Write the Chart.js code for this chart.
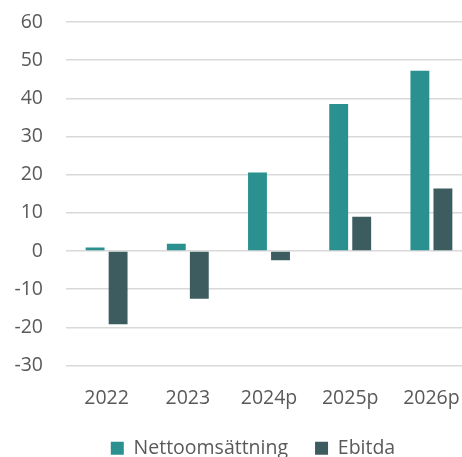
<!DOCTYPE html>
<html>
<head>
<meta charset="utf-8">
<script src="https://cdn.jsdelivr.net/npm/chart.js@4/dist/chart.umd.min.js"></script>
<style>
html,body{margin:0;padding:0;background:#fff;overflow:hidden;}
/* the original is cropped: the plot runs a bit past the right edge */
#wrap{width:462px;height:457px;overflow:hidden;}
</style>
</head>
<body>
<div id="wrap"><canvas id="chart" width="472" height="457"></canvas></div>
<script>
const years = ["2022", "2023", "2024p", "2025p", "2026p"];
const nettoomsattning = [0.9, 1.9, 20.6, 38.5, 47.2];
const ebitda = [-19.2, -12.5, -2.4, 9.0, 16.4];
const yTicks = [-30, -20, -10, 0, 10, 20, 30, 40, 50, 60];

const grey = "#595959";
const font = { family: "'Open Sans', 'Noto Sans', sans-serif", size: 19.5 };

// legend sits a little right of centre in the original
const legendShift = {
  id: "legendShift",
  afterLayout(chart) {
    chart.legend.left += 17;
    chart.legend.right += 17;
  }
};

new Chart(document.getElementById("chart"), {
  type: "bar",
  data: {
    labels: years,
    datasets: [
      { label: "Nettoomsättning", data: nettoomsattning, backgroundColor: "#2A9090" },
      { label: "Ebitda", data: ebitda, backgroundColor: "#3D5C60" }
    ]
  },
  options: {
    responsive: false,
    animation: false,
    layout: { padding: { top: 22, right: 0, left: 0, bottom: -11 } },
    datasets: { bar: { categoryPercentage: 0.567, barPercentage: 0.82 } },
    plugins: {
      tooltip: { enabled: false },
      legend: {
        position: "bottom",
        labels: {
          color: grey, font: font,
          boxWidth: 13, boxHeight: 13, padding: 27
        }
      }
    },
    scales: {
      x: {
        grid: { display: false },
        border: { display: false },
        afterFit: s => { s.height = 46; s.paddingLeft = 0; s.paddingRight = 0; },
        ticks: { color: grey, font: font, padding: 13 }
      },
      y: {
        min: -30, max: 60,
        afterBuildTicks: s => { s.ticks = yTicks.map(v => ({ value: v })); },
        afterFit: s => { s.width = 66; s.paddingTop = 0; s.paddingBottom = 0; },
        grid: { color: "#d9d9d9", lineWidth: 1.5, drawTicks: false },
        border: { display: false },
        ticks: { color: grey, font: font, padding: 23 }
      }
    }
  },
  plugins: [legendShift]
});
</script>
</body>
</html>
